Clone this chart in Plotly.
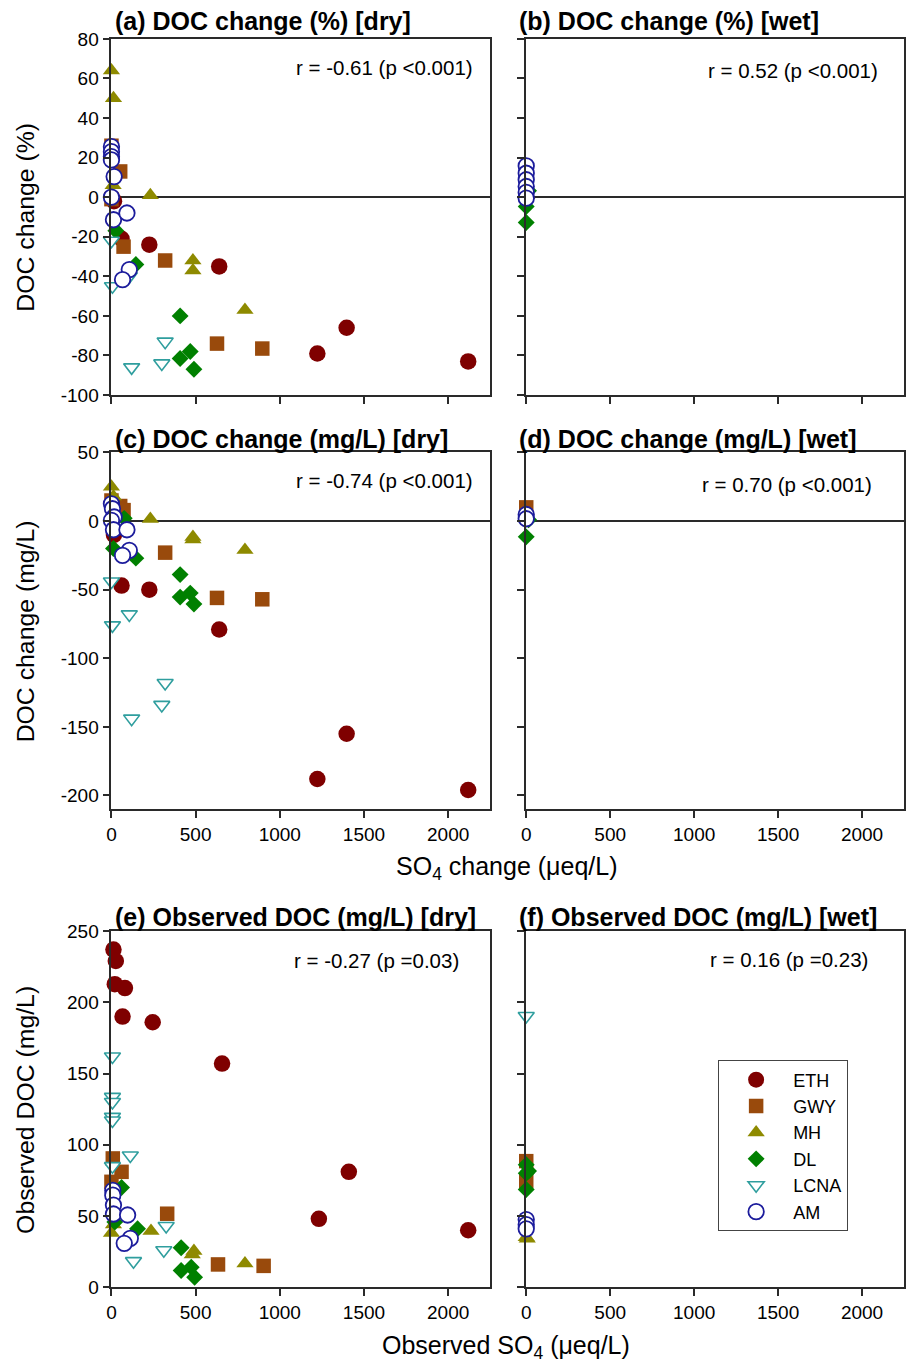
import plotly.graph_objects as go

W, H = 906, 1364

SERIES = ["ETH", "GWY", "MH", "DL", "LCNA", "AM"]

# ---- Panel (a): DOC change (%) vs SO4 change, dry ----
A_ETH = ([15, 60, 225, 640, 1223, 1397, 2119], [-2, -21, -24, -35, -79, -66, -83])
A_GWY = ([0, 52, 0, 72, 319, 627, 896], [26, 13, -1, -25, -32, -74, -76.5])
A_MH = ([0, 12, 10, 231, 484, 484, 793], [64, 50, 6, 1, -32, -37, -57])
A_DL = ([12, 26, 145, 408, 408, 468, 490], [-12, -17, -34, -60, -81.5, -78, -87])
A_LCNA = ([0, 6, 106, 120, 319, 299], [-22, -45, -40, -86, -73, -84])
A_AM = ([0, 0, 0, 0, 16, 0, 12, 92, 106, 66], [25.5, 23, 20.5, 18.8, 10.4, 0, -11.4, -8, -36.6, -41.7])

# ---- Panel (b): DOC change (%) vs SO4 change, wet ----
B_ETH = ([], [])
B_GWY = ([0], [6])
B_MH = ([3], [1])
B_DL = ([0, 0, 14], [-4.7, -12.8, 3.2])
B_LCNA = ([], [])
B_AM = ([0, 0, 0, 0, 0, 0], [15.8, 12.1, 8.8, 5.4, 2.4, -0.5])

# ---- Panel (c): DOC change (mg/L) vs SO4 change, dry ----
C_ETH = ([15, 60, 225, 640, 1223, 1397, 2119], [-10, -47, -50, -79, -188, -155, -196])
C_GWY = ([0, 52, 72, 319, 627, 896], [15, 11, 8, -23, -56, -57])
C_MH = ([0, 12, 10, 231, 484, 484, 793], [25, 18, 5, 1.5, -11.6, -13.5, -21])
C_DL = ([12, 76, 145, 408, 408, 468, 490], [-20, 2, -27, -39, -55.4, -52.5, -60.5])
C_LCNA = ([0, 6, 106, 120, 319, 299], [-44, -76, -68, -144, -118, -134])
C_AM = ([0, 6, 16, 0, 12, 92, 106, 66], [12.6, 9, 3, 0.5, -6.3, -6.3, -21.3, -25])

# ---- Panel (d): DOC change (mg/L) vs SO4 change, wet ----
D_ETH = ([], [])
D_GWY = ([0], [10])
D_MH = ([0], [3])
D_DL = ([0, 14], [-11.5, 1])
D_LCNA = ([], [])
D_AM = ([0, 0], [4.8, 1.7])

# ---- Panel (e): Observed DOC vs observed SO4, dry ----
E_ETH = ([12, 26, 20, 80, 66, 245, 657, 1232, 1410, 2119], [237, 229, 212.7, 210, 190, 186, 157, 48, 81, 40])
E_GWY = ([8, 60, 0, 331, 633, 904], [90.4, 81, 74, 51.6, 16, 15])
E_MH = ([0, 12, 235, 490, 480, 793], [38, 44, 39.5, 25.5, 23, 16.6])
E_DL = ([20, 60, 155, 414, 414, 474, 494], [45.8, 70, 41, 27.7, 11.7, 14, 7])
E_LCNA = ([6, 6, 6, 6, 6, 112, 6, 325, 311, 131], [162, 133.6, 130, 119.6, 117, 92.5, 85, 43, 26, 18.3])
E_AM = ([8, 8, 12, 12, 96, 112, 76], [68, 64.6, 57.7, 51.4, 50.7, 34.3, 30.8])

# ---- Panel (f): Observed DOC vs observed SO4, wet ----
F_ETH = ([], [])
F_GWY = ([0, 0], [88.5, 74.5])
F_MH = ([0, 6], [35, 34])
F_DL = ([0, 0, 0, 14], [86, 80, 68.6, 81.5])
F_LCNA = ([0], [190.4])
F_AM = ([0, 0, 0], [47.5, 44, 41])

PANELS = [
    ("a", [A_ETH, A_GWY, A_MH, A_DL, A_LCNA, A_AM]),
    ("b", [B_ETH, B_GWY, B_MH, B_DL, B_LCNA, B_AM]),
    ("c", [C_ETH, C_GWY, C_MH, C_DL, C_LCNA, C_AM]),
    ("d", [D_ETH, D_GWY, D_MH, D_DL, D_LCNA, D_AM]),
    ("e", [E_ETH, E_GWY, E_MH, E_DL, E_LCNA, E_AM]),
    ("f", [F_ETH, F_GWY, F_MH, F_DL, F_LCNA, F_AM]),
]

TITLES = [
    "(a) DOC change (%) [dry]", "(b) DOC change (%) [wet]",
    "(c) DOC change (mg/L) [dry]", "(d) DOC change (mg/L) [wet]",
    "(e) Observed DOC (mg/L) [dry]", "(f) Observed DOC (mg/L) [wet]",
]
R_TEXT = [
    "r = -0.61 (p <0.001)", "r = 0.52 (p <0.001)",
    "r = -0.74 (p <0.001)", "r = 0.70 (p <0.001)",
    "r = -0.27 (p =0.03)", "r = 0.16 (p =0.23)",
]
X_TICKS = [0, 500, 1000, 1500, 2000]
Y_TICKS_PCT = [-100, -80, -60, -40, -20, 0, 20, 40, 60, 80]
Y_TICKS_MG = [-200, -150, -100, -50, 0, 50]
Y_TICKS_OBS = [0, 50, 100, 150, 200, 250]

STYLE = {
    "ETH": dict(symbol="circle", size=16.5, color="#7f0000", line=dict(width=0)),
    "GWY": dict(symbol="square", size=14.5, color="#994a0c", line=dict(width=0)),
    "MH": dict(symbol="triangle-up", size=15, color="#8e8a00", line=dict(width=0)),
    "DL": dict(symbol="diamond", size=13, color="#008000", line=dict(width=0)),
    "LCNA": dict(symbol="triangle-down", size=14, color="white", line=dict(width=1.6, color="#2f9e9e")),
    "AM": dict(symbol="circle", size=15.5, color="white", line=dict(width=1.8, color="#1c1c9c")),
}

AX = "#2a2a2a"
FONT = "Arial, Liberation Sans, Helvetica, sans-serif"

# Calibration of the photographed page (measured from earlier renders):
# screen_y ~= 0.9855 * page_y + 9.6 ; screen_x ~= 0.995 * page_x + 4.5
SY, OY = 0.9855, 9.6
SX, OX = 0.995, 4.5


def px_x(x):
    """Reference-image x pixel -> paper fraction."""
    return ((x - OX) / SX) / W


def px_y(y):
    """Reference-image y pixel -> paper fraction."""
    return 1 - ((y - OY) / SY) / H


def tick_text(vals):
    return [str(v) for v in vals]  # plain hyphen minus like the reference


X_DOMAINS = [[px_x(111), px_x(490)], [px_x(526), px_x(904)]]
Y_DOMAINS = [[px_y(395), px_y(38.5)], [px_y(809.5), px_y(452.5)], [px_y(1288), px_y(931.5)]]
Y_RANGES = [[-100, 80], [-210, 50], [0, 250]]
Y_TICKVALS = [Y_TICKS_PCT, Y_TICKS_MG, Y_TICKS_OBS]

fig = go.Figure()

for i, (key, series_data) in enumerate(PANELS):
    ax_n = i + 1
    xref = "x" if ax_n == 1 else f"x{ax_n}"
    yref = "y" if ax_n == 1 else f"y{ax_n}"
    for name, (xs, ys) in zip(SERIES, series_data):
        st = STYLE[name]
        fig.add_trace(go.Scatter(
            x=xs, y=ys, mode="markers", name=name,
            marker=dict(symbol=st["symbol"], size=st["size"], color=st["color"], line=st["line"]),
            xaxis=xref, yaxis=yref, cliponaxis=False,
            showlegend=(key == "a"), legendgroup=name,
        ))

layout = dict(
    width=W, height=H, autosize=False,
    margin=dict(l=0, r=0, t=0, b=0),
    paper_bgcolor="white", plot_bgcolor="white",
    font=dict(family=FONT, color="black", size=19),
    legend=dict(
        x=px_x(718), y=px_y(1061), xanchor="left", yanchor="top",
        bordercolor="#444444", borderwidth=1, bgcolor="white",
        font=dict(size=18, family=FONT), traceorder="normal",
        tracegroupgap=0, itemwidth=64,
    ),
)

annotations = []
for i in range(6):
    row, col = divmod(i, 2)
    ax_n = i + 1
    xk = "xaxis" if ax_n == 1 else f"xaxis{ax_n}"
    yk = "yaxis" if ax_n == 1 else f"yaxis{ax_n}"
    yanchor_name = "y" if ax_n == 1 else f"y{ax_n}"
    xanchor_name = "x" if ax_n == 1 else f"x{ax_n}"
    layout[xk] = dict(
        domain=X_DOMAINS[col], anchor=yanchor_name, range=[0, 2250],
        tickvals=X_TICKS, ticktext=tick_text(X_TICKS), showticklabels=(row > 0),
        ticks="outside", ticklen=7, tickwidth=1.5, tickcolor=AX,
        showline=True, linecolor=AX, linewidth=1.8, mirror=True,
        showgrid=False, zeroline=False, tickfont=dict(size=19),
    )
    layout[yk] = dict(
        domain=Y_DOMAINS[row], anchor=xanchor_name, range=Y_RANGES[row],
        tickvals=Y_TICKVALS[row], ticktext=tick_text(Y_TICKVALS[row]),
        showticklabels=(col == 0),
        ticks="outside", ticklen=7, tickwidth=1.5, tickcolor=AX,
        showline=True, linecolor=AX, linewidth=1.8, mirror=True,
        showgrid=False, zeroline=(row < 2), zerolinecolor=AX, zerolinewidth=1.8,
        tickfont=dict(size=19),
    )

TITLE_POS = [(113, 21), (517, 21), (113, 439), (517, 439), (113, 917), (517, 917)]
R_POS = [(475, 67), (880, 70), (475, 481), (874, 485), (461, 961), (870, 960)]
for i in range(6):
    tx, ty = TITLE_POS[i]
    annotations.append(dict(
        text=f"<b>{TITLES[i]}</b>", x=px_x(tx), y=px_y(ty), xref="paper", yref="paper",
        xanchor="left", yanchor="middle", showarrow=False,
        font=dict(size=25, family=FONT, color="black"),
    ))
    rx, ry = R_POS[i]
    annotations.append(dict(
        text=R_TEXT[i], x=px_x(rx), y=px_y(ry), xref="paper", yref="paper",
        xanchor="right", yanchor="middle", showarrow=False,
        font=dict(size=20.5, family=FONT, color="black"),
    ))

Y_TITLES = [("DOC change (%)", 217), ("DOC change (mg/L)", 631), ("Observed DOC (mg/L)", 1110)]
for text, yc in Y_TITLES:
    annotations.append(dict(
        text=text, x=px_x(25), y=px_y(yc), xref="paper", yref="paper",
        xanchor="center", yanchor="middle", textangle=-90, showarrow=False,
        font=dict(size=24.8, family=FONT, color="black"),
    ))

X_TITLES = [("SO<sub>4</sub> change (\u03bceq/L)", 868), ("Observed SO<sub>4</sub> (\u03bceq/L)", 1348)]
for text, yc in X_TITLES:
    annotations.append(dict(
        text=text, x=px_x(506), y=px_y(yc), xref="paper", yref="paper",
        xanchor="center", yanchor="middle", showarrow=False,
        font=dict(size=25, family=FONT, color="black"),
    ))

layout["annotations"] = annotations
fig.update_layout(**layout)

POST = (
    "var gd = document.getElementById('{plot_id}');"
    "document.documentElement.style.margin='0px';"
    "document.body.style.margin='0px';"
    "document.body.style.padding='0px';"
    "document.documentElement.style.overflow='hidden';"
    "document.body.style.overflow='hidden';"
    "gd.style.position='fixed'; gd.style.top='0px'; gd.style.left='0px';"
)

fig.write_html("out.html", post_script=POST, config={"displayModeBar": False})
